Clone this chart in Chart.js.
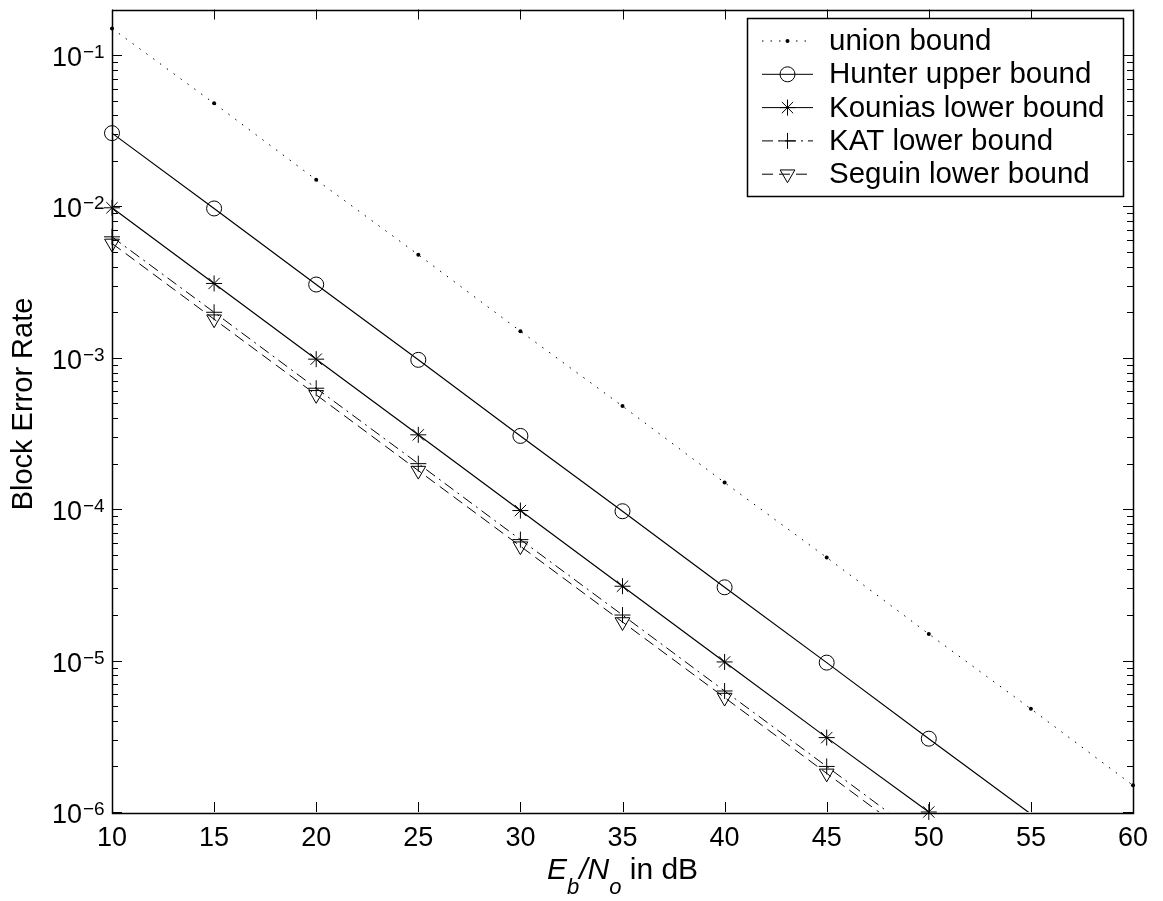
<!DOCTYPE html>
<html>
<head>
<meta charset="utf-8">
<script src="https://cdn.jsdelivr.net/npm/chart.js@4/dist/chart.umd.min.js"></script>
<style>
  body { margin: 0; background: #fff; }
  #wrap { width: 1163px; height: 901px; }
</style>
</head>
<body>
<div id="wrap"><canvas id="berChart" width="1163" height="901"></canvas></div>
<script>
// Eb/No values (dB)
const ebNo = [10, 15, 20, 25, 30, 35, 40, 45, 50, 55, 60];
// block error rate for each bound
const unionBound = [0.15, 0.048, 0.015, 0.0048, 0.0015, 4.8e-4, 1.5e-4, 4.8e-5, 1.5e-5, 4.8e-6, 1.5e-6];
const hunterUpper = [0.0305, 0.0097, 0.00305, 9.7e-4, 3.05e-4, 9.7e-5, 3.05e-5, 9.7e-6, 3.05e-6, 9.7e-7];
const kouniasLower = [0.0098, 0.0031, 9.8e-4, 3.1e-4, 9.8e-5, 3.1e-5, 9.8e-6, 3.1e-6, 1.0e-6];
const katLower = [0.0063, 0.002, 6.3e-4, 2.0e-4, 6.3e-5, 2.0e-5, 6.3e-6, 2.0e-6, 6.3e-7];
const seguinLower = [0.0057, 0.0018, 5.7e-4, 1.8e-4, 5.7e-5, 1.8e-5, 5.7e-6, 1.8e-6, 5.7e-7];

const seriesNames = ['union bound', 'Hunter upper bound', 'Kounias lower bound', 'KAT lower bound', 'Seguin lower bound'];
const xTicks = [10, 15, 20, 25, 30, 35, 40, 45, 50, 55, 60];
const yDecades = [-6, -5, -4, -3, -2, -1];
const yMin = 1e-6, yMax = 0.2;

const FONT = "'Liberation Sans', Arial, Helvetica, sans-serif";

function pts(vals) {
  return vals.map((v, i) => ({ x: ebNo[i], y: v }));
}
function radiusFor(r) {
  return ctx => (ctx.raw && ctx.raw.y < yMin) ? 0 : r;
}

// marker drawing for the legend
function drawMarker(ctx, style, x, y) {
  ctx.save();
  ctx.lineWidth = 1;
  ctx.strokeStyle = '#000';
  ctx.fillStyle = '#000';
  ctx.setLineDash([]);
  ctx.beginPath();
  if (style === 'dot') {
    ctx.arc(x, y, 2, 0, Math.PI * 2);
    ctx.fill();
  } else if (style === 'circle') {
    ctx.arc(x, y, 7.5, 0, Math.PI * 2);
    ctx.stroke();
  } else if (style === 'star') {
    const r = 8, d = r * Math.SQRT1_2;
    ctx.moveTo(x - r, y); ctx.lineTo(x + r, y);
    ctx.moveTo(x, y - r); ctx.lineTo(x, y + r);
    ctx.moveTo(x - d, y - d); ctx.lineTo(x + d, y + d);
    ctx.moveTo(x - d, y + d); ctx.lineTo(x + d, y - d);
    ctx.stroke();
  } else if (style === 'plus') {
    ctx.moveTo(x - 8, y); ctx.lineTo(x + 8, y);
    ctx.moveTo(x, y - 8); ctx.lineTo(x, y + 8);
    ctx.stroke();
  } else if (style === 'tri') {
    const r = 8.5;
    ctx.moveTo(x, y + r);
    ctx.lineTo(x - r * 0.866, y - r * 0.5);
    ctx.lineTo(x + r * 0.866, y - r * 0.5);
    ctx.closePath();
    ctx.stroke();
  }
  ctx.restore();
}

const legendStyles = [
  { dash: [1.5, 7], marker: 'dot' },
  { dash: [], marker: 'circle' },
  { dash: [], marker: 'star' },
  { dash: [11, 5, 2, 5], marker: 'plus' },
  { dash: [11, 6], marker: 'tri' }
];

const matlabFrame = {
  id: 'matlabFrame',
  afterDraw(chart) {
    const ctx = chart.ctx;
    const a = chart.chartArea;
    const xs = chart.scales.x, ys = chart.scales.y;
    ctx.save();
    ctx.strokeStyle = '#000';
    ctx.lineWidth = 1;
    ctx.setLineDash([]);

    // inward ticks on all four sides
    ctx.beginPath();
    xTicks.forEach(v => {
      const px = Math.round(xs.getPixelForValue(v)) + 0.5;
      ctx.moveTo(px, a.bottom); ctx.lineTo(px, a.bottom - 10);
      ctx.moveTo(px, a.top); ctx.lineTo(px, a.top + 10);
    });
    yDecades.forEach(e => {
      for (let m = 1; m <= 9; m++) {
        const v = m * Math.pow(10, e);
        if (v < yMin || v > yMax) continue;
        const py = Math.round(ys.getPixelForValue(v)) + 0.5;
        const len = m === 1 ? 10 : 6;
        ctx.moveTo(a.left, py); ctx.lineTo(a.left + len, py);
        ctx.moveTo(a.right, py); ctx.lineTo(a.right - len, py);
      }
    });
    ctx.stroke();

    // box
    ctx.lineWidth = 1.5;
    ctx.strokeRect(Math.round(a.left) + 0.5, Math.round(a.top) + 0.5,
      Math.round(a.right - a.left), Math.round(a.bottom - a.top));

    // y tick labels 10^k
    ctx.fillStyle = '#000';
    yDecades.forEach(e => {
      const py = ys.getPixelForValue(Math.pow(10, e));
      ctx.font = '27px ' + FONT;
      ctx.textAlign = 'right';
      ctx.textBaseline = 'alphabetic';
      ctx.fillText('10', 82, py + 11);
      ctx.font = '19px ' + FONT;
      ctx.textAlign = 'left';
      ctx.fillText('\u2212' + Math.abs(e), 83, py + 3);
    });

    // y axis title
    ctx.save();
    ctx.translate(24, 404);
    ctx.rotate(-Math.PI / 2);
    ctx.font = '29px ' + FONT;
    ctx.textAlign = 'center';
    ctx.textBaseline = 'middle';
    ctx.fillText('Block Error Rate', 0, 0);
    ctx.restore();

    // x axis title: E_b/N_o in dB
    const parts = [
      { t: 'E', f: 'italic 30px ', dy: 0 },
      { t: 'b', f: 'italic 22px ', dy: 15 },
      { t: '/', f: 'italic 30px ', dy: 0 },
      { t: 'N', f: 'italic 30px ', dy: 0 },
      { t: 'o', f: 'italic 22px ', dy: 15 },
      { t: ' in dB', f: '30px ', dy: 0 }
    ];
    let total = 0;
    parts.forEach(p => { ctx.font = p.f + FONT; p.w = ctx.measureText(p.t).width; total += p.w; });
    let cx = (a.left + a.right) / 2 - total / 2;
    ctx.textAlign = 'left';
    ctx.textBaseline = 'alphabetic';
    parts.forEach(p => {
      ctx.font = p.f + FONT;
      ctx.fillText(p.t, cx, 879 + p.dy);
      cx += p.w;
    });

    // legend
    const lx = 747, ly = 18, lw = 376, lh = 178;
    ctx.fillStyle = '#fff';
    ctx.fillRect(lx, ly, lw, lh);
    ctx.lineWidth = 1.5;
    ctx.strokeRect(lx + 0.5, ly + 0.5, lw, lh);
    seriesNames.forEach((name, i) => {
      const rowY = 41 + i * 33.3;
      const st = legendStyles[i];
      ctx.lineWidth = 1;
      ctx.strokeStyle = '#000';
      ctx.setLineDash(st.dash);
      ctx.beginPath();
      ctx.moveTo(762, rowY); ctx.lineTo(813, rowY);
      ctx.stroke();
      ctx.setLineDash([]);
      drawMarker(ctx, st.marker, 787.5, rowY);
      ctx.fillStyle = '#000';
      ctx.font = '29.5px ' + FONT;
      ctx.textAlign = 'left';
      ctx.textBaseline = 'middle';
      ctx.fillText(name, 829, rowY + 1);
    });
    ctx.restore();
  }
};

const ctx = document.getElementById('berChart').getContext('2d');
const chart = new Chart(ctx, {
  type: 'line',
  data: {
    datasets: [
      {
        label: seriesNames[0],
        data: pts(unionBound),
        borderColor: '#000',
        borderWidth: 1,
        borderDash: [1.5, 7],
        pointStyle: 'circle',
        pointRadius: radiusFor(2),
        pointBackgroundColor: '#000',
        pointBorderColor: '#000',
        pointBorderWidth: 0,
        clip: { left: 4, top: 0, right: 4, bottom: 0 }
      },
      {
        label: seriesNames[1],
        data: pts(hunterUpper),
        borderColor: '#000',
        borderWidth: 1.2,
        pointStyle: 'circle',
        pointRadius: radiusFor(7.5),
        pointBackgroundColor: 'rgba(0,0,0,0)',
        pointBorderColor: '#000',
        pointBorderWidth: 1,
        clip: { left: 10, top: 0, right: 0, bottom: 0 }
      },
      {
        label: seriesNames[2],
        data: pts(kouniasLower),
        borderColor: '#000',
        borderWidth: 1.2,
        pointStyle: 'star',
        pointRadius: radiusFor(8),
        pointBackgroundColor: 'rgba(0,0,0,0)',
        pointBorderColor: '#000',
        pointBorderWidth: 1,
        clip: { left: 10, top: 0, right: 0, bottom: 12 }
      },
      {
        label: seriesNames[3],
        data: pts(katLower),
        borderColor: '#000',
        borderWidth: 1,
        borderDash: [11, 5, 2, 5],
        pointStyle: 'cross',
        pointRadius: radiusFor(8),
        pointBackgroundColor: 'rgba(0,0,0,0)',
        pointBorderColor: '#000',
        pointBorderWidth: 1,
        clip: { left: 10, top: 0, right: 0, bottom: 0 }
      },
      {
        label: seriesNames[4],
        data: pts(seguinLower),
        borderColor: '#000',
        borderWidth: 1,
        borderDash: [11, 6],
        pointStyle: 'triangle',
        rotation: 180,
        pointRadius: radiusFor(8.5),
        pointBackgroundColor: 'rgba(0,0,0,0)',
        pointBorderColor: '#000',
        pointBorderWidth: 1,
        clip: { left: 10, top: 0, right: 0, bottom: 0 }
      }
    ]
  },
  options: {
    responsive: false,
    animation: false,
    layout: { padding: { top: 6, right: 30, left: 0, bottom: 0 } },
    plugins: {
      legend: { display: false },
      tooltip: { enabled: false }
    },
    elements: { line: { tension: 0 } },
    scales: {
      x: {
        type: 'linear',
        min: 10,
        max: 60,
        grid: { display: false, drawTicks: false },
        border: { display: false },
        ticks: {
          stepSize: 5,
          color: '#000',
          font: { family: FONT, size: 27 },
          padding: 10,
          maxRotation: 0
        },
        afterFit(scale) { scale.height = 89; }
      },
      y: {
        type: 'logarithmic',
        min: yMin,
        max: yMax,
        grid: { display: false, drawTicks: false },
        border: { display: false },
        ticks: { display: false },
        afterFit(scale) { scale.width = 112; }
      }
    }
  },
  plugins: [matlabFrame]
});
</script>
</body>
</html>
